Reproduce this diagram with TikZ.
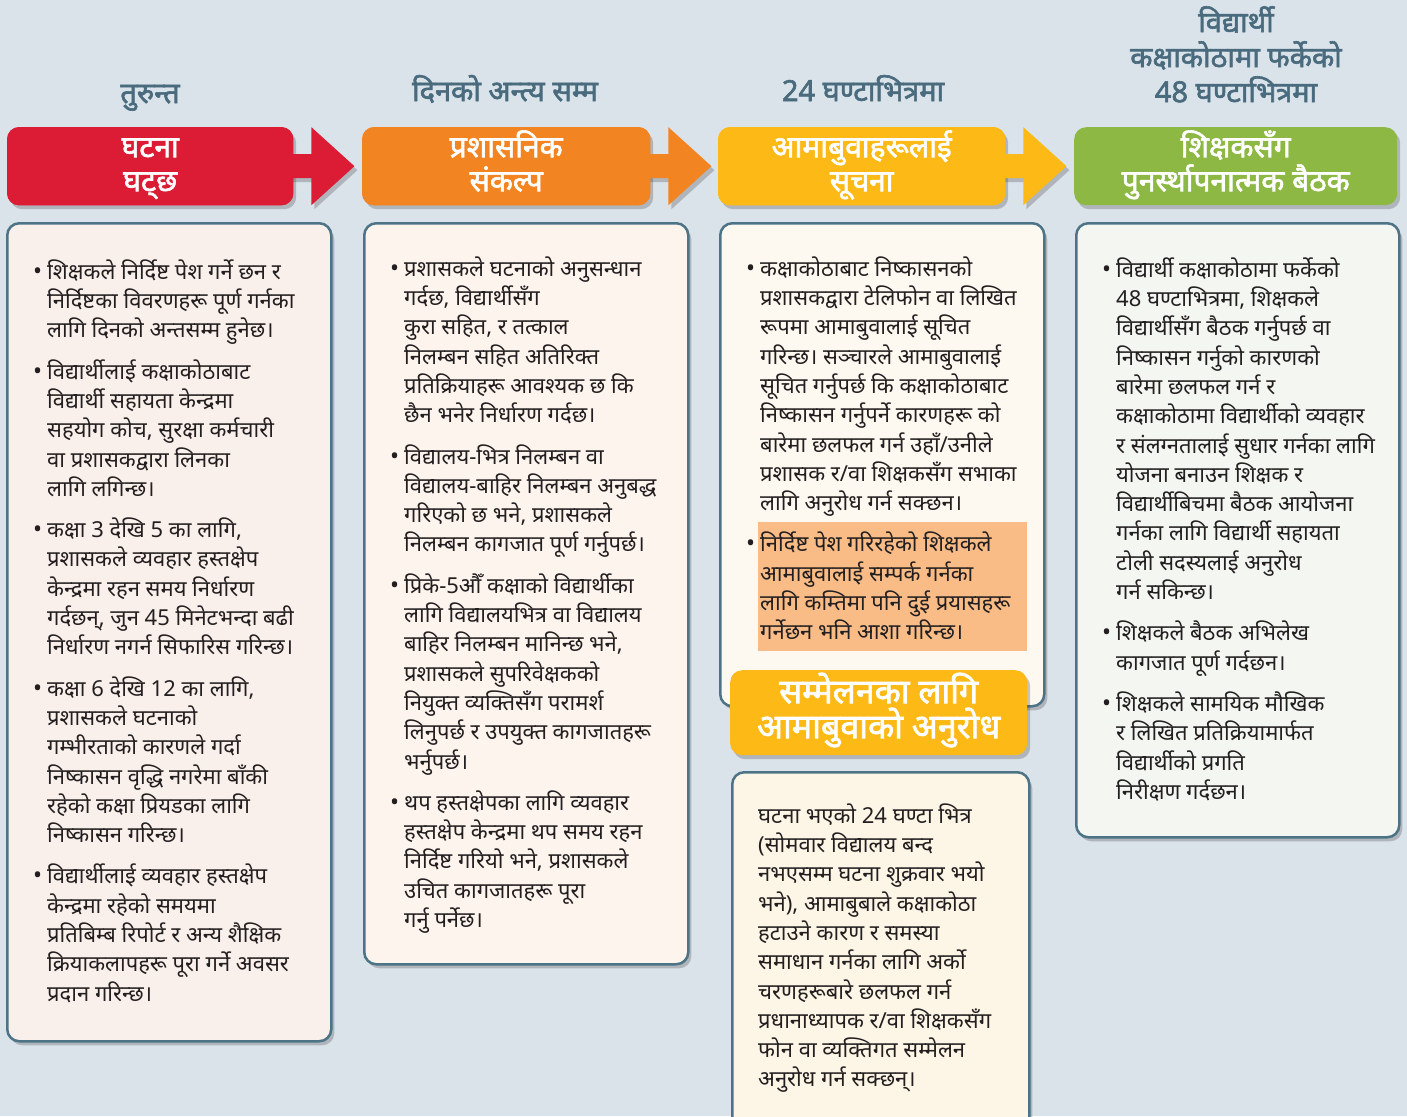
\documentclass[tikz,border=0pt]{standalone}
\usepackage{fontspec}
\setmainfont[Script=Devanagari]{Noto Sans}
\newfontfamily\hvyfont[Script=Devanagari,FakeBold=2]{Noto Sans}
\usetikzlibrary{shadows,calc}
\definecolor{bgc}{HTML}{DAE3EA}
\definecolor{hdrc}{HTML}{4A6B7D}
\definecolor{redc}{HTML}{DC1C35}
\definecolor{orgc}{HTML}{F38422}
\definecolor{yelc}{HTML}{FDB915}
\definecolor{grnc}{HTML}{8CB843}
\definecolor{brdc}{HTML}{4D7486}
\definecolor{fillA}{HTML}{FAF0EB}
\definecolor{fillB}{HTML}{FDF4EE}
\definecolor{fillC}{HTML}{FDF8F0}
\definecolor{fillD}{HTML}{FDF6E6}
\definecolor{fillE}{HTML}{F3F6F1}
\definecolor{hilc}{HTML}{F9BC86}
\definecolor{txtc}{HTML}{231F20}
\newcommand\mybul{\makebox[11pt][l]{\hspace{-3pt}\fontsize{24}{29.3}\selectfont•}}
\newcommand\myind{\hspace*{11pt}}
\newcommand\topstrut{\rule{0pt}{26pt}}
\tikzset{
  shad/.style={drop shadow={shadow xshift=3pt,shadow yshift=-4pt,opacity=0.3,fill=black!70}},
  colbox/.style={draw=brdc,line width=2.5pt,rounded corners=12pt,shad,anchor=north west,inner sep=0pt},
  banner/.style={rounded corners=12pt,shad,anchor=north west,inner sep=0pt,minimum height=78pt},
  bantext/.style={text=white,font=\hvyfont\fontsize{30}{34}\selectfont,align=center,anchor=north,inner sep=0pt},
  hdr/.style={text=hdrc,font=\hvyfont\fontsize{29}{35}\selectfont,inner sep=0pt},
  bodytext/.style={text=txtc,font=\fontsize{22}{29.3}\selectfont,align=left,anchor=north west,inner sep=0pt},
  bigarrow/.style={shad}
}
\begin{document}
\lineskiplimit=-40pt
\lineskip=0pt
\begin{tikzpicture}[x=1pt,y=-1pt]
\fill[bgc] (0,0) rectangle (1407,1116);
\useasboundingbox (0,0) rectangle (1407,1116);

% headers
\node[hdr,anchor=base] (h1) at (150,103) {तुरुन्त};
\node[hdr,anchor=base] (h2) at (505,101) {दिनको अन्त्य सम्म};
\node[hdr,anchor=base] (h3) at (863,101) {24 घण्टाभित्रमा};
\node[hdr,anchor=north,align=center] (h4) at (1236,4) {\rule{0pt}{28pt}विद्यार्थी\\कक्षाकोठामा फर्केको\\48 घण्टाभित्रमा};

% banners
\node[banner,fill=redc,minimum width=286pt] (b1) at (7,127) {};
\node[banner,fill=orgc,minimum width=288pt] (b2) at (362,127) {};
\node[banner,fill=yelc,minimum width=287pt] (b3) at (718,127) {};
\node[banner,fill=grnc,minimum width=323pt] (b4) at (1074,127) {};

% arrows between banners
\foreach \a/\c in {b1/redc,b2/orgc,b3/yelc}{
  \fill[\c,bigarrow] ($(\a.east)+(-4,-12)$) -- ($(\a.east)+(18,-12)$) -- ($(\a.east)+(18,-39)$)
     -- ($(\a.east)+(61,0)$) -- ($(\a.east)+(18,39)$) -- ($(\a.east)+(18,12)$) -- ($(\a.east)+(-4,12)$) -- cycle;
}
\fill[redc,rounded corners=12pt] (b1.north west) rectangle (b1.south east);
\fill[orgc,rounded corners=12pt] (b2.north west) rectangle (b2.south east);
\fill[yelc,rounded corners=12pt] (b3.north west) rectangle (b3.south east);

\node[bantext] (t1) at (b1.north) {\rule{0pt}{30pt}घटना\\घट्छ};
\node[bantext] (t2) at (b2.north) {\rule{0pt}{30pt}प्रशासनिक\\संकल्प};
\node[bantext] (t3) at (b3.north) {\rule{0pt}{30pt}आमाबुवाहरूलाई\\सूचना};
\node[bantext] (t4) at (b4.north) {\rule{0pt}{30pt}शिक्षकसँग\\पुनर्स्थापनात्मक बैठक};

% column boxes
\node[colbox,fill=fillA,minimum width=324pt,minimum height=818pt] (c1) at (6,222) {};
\node[colbox,fill=fillB,minimum width=324pt,minimum height=741pt] (c2) at (363,222) {};
\node[colbox,fill=fillC,minimum width=324pt,minimum height=483pt] (c3) at (719,222) {};
\node[colbox,fill=fillE,minimum width=323pt,minimum height=614pt] (c4) at (1075,222) {};
\node[colbox,fill=fillD,minimum width=297pt,minimum height=380pt] (c5) at (731,771) {};

% sub banner
\node[banner,fill=yelc,minimum width=297pt,minimum height=85pt] (b5) at (730,670) {};
\node[bantext,font=\hvyfont\fontsize{34}{35}\selectfont] (t5) at (b5.north) {\rule{0pt}{33pt}सम्मेलनका लागि\\आमाबुवाको अनुरोध};

% highlight
\fill[hilc] (758,522) rectangle (1027,651);

% column texts
\node[bodytext] (x1) at (36,253) {\topstrut\mybul शिक्षकले निर्दिष्ट पेश गर्ने छन र\\
\myind निर्दिष्टका विवरणहरू पूर्ण गर्नका\\
\myind लागि दिनको अन्तसम्म हुनेछ।\\[12pt]
\mybul विद्यार्थीलाई कक्षाकोठाबाट\\
\myind विद्यार्थी सहायता केन्द्रमा\\
\myind सहयोग कोच, सुरक्षा कर्मचारी\\
\myind वा प्रशासकद्वारा लिनका\\
\myind लागि लगिन्छ।\\[12pt]
\mybul कक्षा 3 देखि 5 का लागि,\\
\myind प्रशासकले व्यवहार हस्तक्षेप\\
\myind केन्द्रमा रहन समय निर्धारण\\
\myind गर्दछन्, जुन 45 मिनेटभन्दा बढी\\
\myind निर्धारण नगर्न सिफारिस गरिन्छ।\\[12pt]
\mybul कक्षा 6 देखि 12 का लागि,\\
\myind प्रशासकले घटनाको\\
\myind गम्भीरताको कारणले गर्दा\\
\myind निष्कासन वृद्धि नगरेमा बाँकी\\
\myind रहेको कक्षा प्रियडका लागि\\
\myind निष्कासन गरिन्छ।\\[12pt]
\mybul विद्यार्थीलाई व्यवहार हस्तक्षेप\\
\myind केन्द्रमा रहेको समयमा\\
\myind प्रतिबिम्ब रिपोर्ट र अन्य शैक्षिक\\
\myind क्रियाकलापहरू पूरा गर्ने अवसर\\
\myind प्रदान गरिन्छ।};

\node[bodytext] (x2) at (393,250) {\topstrut\mybul प्रशासकले घटनाको अनुसन्धान\\
\myind गर्दछ, विद्यार्थीसँग\\
\myind कुरा सहित, र तत्काल\\
\myind निलम्बन सहित अतिरिक्त\\
\myind प्रतिक्रियाहरू आवश्यक छ कि\\
\myind छैन भनेर निर्धारण गर्दछ।\\[12pt]
\mybul विद्यालय-भित्र निलम्बन वा\\
\myind विद्यालय-बाहिर निलम्बन अनुबद्ध\\
\myind गरिएको छ भने, प्रशासकले\\
\myind निलम्बन कागजात पूर्ण गर्नुपर्छ।\\[12pt]
\mybul प्रिके-5औँ कक्षाको विद्यार्थीका\\
\myind लागि विद्यालयभित्र वा विद्यालय\\
\myind बाहिर निलम्बन मानिन्छ भने,\\
\myind प्रशासकले सुपरिवेक्षकको\\
\myind नियुक्त व्यक्तिसँग परामर्श\\
\myind लिनुपर्छ र उपयुक्त कागजातहरू\\
\myind भर्नुपर्छ।\\[12pt]
\mybul थप हस्तक्षेपका लागि व्यवहार\\
\myind हस्तक्षेप केन्द्रमा थप समय रहन\\
\myind निर्दिष्ट गरियो भने, प्रशासकले\\
\myind उचित कागजातहरू पूरा\\
\myind गर्नु पर्नेछ।};

\node[bodytext] (x3) at (749,250) {\topstrut\mybul कक्षाकोठाबाट निष्कासनको\\
\myind प्रशासकद्वारा टेलिफोन वा लिखित\\
\myind रूपमा आमाबुवालाई सूचित\\
\myind गरिन्छ। सञ्चारले आमाबुवालाई\\
\myind सूचित गर्नुपर्छ कि कक्षाकोठाबाट\\
\myind निष्कासन गर्नुपर्ने कारणहरू को\\
\myind बारेमा छलफल गर्न उहाँ/उनीले\\
\myind प्रशासक र/वा शिक्षकसँग सभाका\\
\myind लागि अनुरोध गर्न सक्छन।\\[12pt]
\mybul निर्दिष्ट पेश गरिरहेको शिक्षकले\\
\myind आमाबुवालाई सम्पर्क गर्नका\\
\myind लागि कम्तिमा पनि दुई प्रयासहरू\\
\myind गर्नेछन भनि आशा गरिन्छ।};

\node[bodytext] (x5) at (758,797) {\topstrut घटना भएको 24 घण्टा भित्र\\
(सोमवार विद्यालय बन्द\\
नभएसम्म घटना शुक्रवार भयो\\
भने), आमाबुबाले कक्षाकोठा\\
हटाउने कारण र समस्या\\
समाधान गर्नका लागि अर्को\\
चरणहरूबारे छलफल गर्न\\
प्रधानाध्यापक र/वा शिक्षकसँग\\
फोन वा व्यक्तिगत सम्मेलन\\
अनुरोध गर्न सक्छन्।};

\node[bodytext] (x4) at (1105,251) {\topstrut\mybul विद्यार्थी कक्षाकोठामा फर्केको\\
\myind 48 घण्टाभित्रमा, शिक्षकले\\
\myind विद्यार्थीसँग बैठक गर्नुपर्छ वा\\
\myind निष्कासन गर्नुको कारणको\\
\myind बारेमा छलफल गर्न र\\
\myind कक्षाकोठामा विद्यार्थीको व्यवहार\\
\myind र संलग्नतालाई सुधार गर्नका लागि\\
\myind योजना बनाउन शिक्षक र\\
\myind विद्यार्थीबिचमा बैठक आयोजना\\
\myind गर्नका लागि विद्यार्थी सहायता\\
\myind टोली सदस्यलाई अनुरोध\\
\myind गर्न सकिन्छ।\\[12pt]
\mybul शिक्षकले बैठक अभिलेख\\
\myind कागजात पूर्ण गर्दछन।\\[12pt]
\mybul शिक्षकले सामयिक मौखिक\\
\myind र लिखित प्रतिक्रियामार्फत\\
\myind विद्यार्थीको प्रगति\\
\myind निरीक्षण गर्दछन।};
\end{tikzpicture}
\end{document}
